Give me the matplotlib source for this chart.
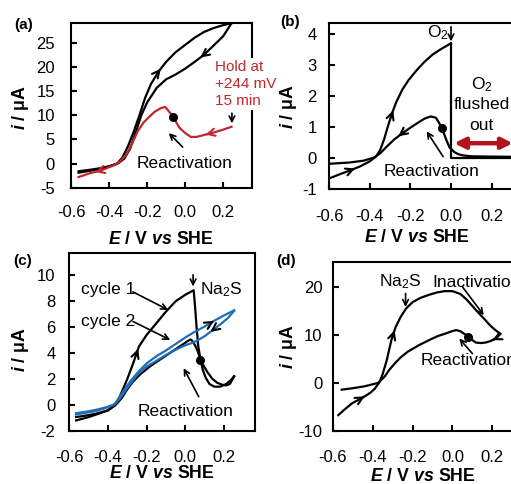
import numpy as np
import matplotlib
matplotlib.use('Agg')
import matplotlib.pyplot as plt

plt.rcParams['font.family'] = ['Liberation Sans', 'DejaVu Sans']
plt.rcParams['mathtext.fontset'] = 'custom'
plt.rcParams['mathtext.rm'] = 'Liberation Sans'
plt.rcParams['mathtext.it'] = 'Liberation Sans:italic:bold'
plt.rcParams['mathtext.bf'] = 'Liberation Sans:bold'
plt.rcParams['axes.unicode_minus'] = False

RED = '#c1272d'
DARKRED = '#b3141c'
BLUE = '#1e6eb8'

E_TICKS = [-0.6, -0.4, -0.2, 0.0, 0.2]
E_TICKLABELS = ['-0.6', '-0.4', '-0.2', '0.0', '0.2']

### (a) CV with hold at +244 mV
a_fwd_E = [-0.56, -0.50, -0.44, -0.40, -0.36, -0.33, -0.30, -0.27, -0.24, -0.21, -0.18,
           -0.14, -0.10, -0.05, 0.00, 0.05, 0.10, 0.15, 0.20, 0.244]
a_fwd_i = [-1.9, -1.5, -1.0, -0.6, -0.1, 1.2, 3.6, 6.6, 10.0, 13.6, 16.4,
           19.0, 21.0, 23.0, 24.5, 26.0, 27.2, 28.0, 28.6, 29.0]
a_rev_E = [0.244, 0.20, 0.15, 0.10, 0.05, 0.00, -0.05, -0.10, -0.15, -0.20, -0.23,
           -0.26, -0.29, -0.32, -0.35, -0.40, -0.45, -0.50, -0.56]
a_rev_i = [29.0, 26.3, 24.4, 22.5, 21.0, 19.6, 18.4, 17.4, 15.6, 12.6, 10.0,
           6.4, 3.0, 1.0, 0.1, -0.6, -1.0, -1.3, -1.6]
a_hold_E = [0.244, 0.20, 0.15, 0.10, 0.06, 0.03, 0.00, -0.03, -0.064, -0.09, -0.105, -0.13,
            -0.16, -0.19, -0.22, -0.25, -0.28, -0.31, -0.34, -0.37, -0.44, -0.50, -0.56]
a_hold_i = [7.6, 7.0, 6.4, 5.9, 5.5, 5.5, 6.3, 7.4, 9.7, 11.0, 11.7, 11.4,
            10.7, 9.6, 8.4, 6.6, 4.0, 1.8, 0.5, -0.3, -1.4, -2.0, -2.8]

### (b) O2 added then flushed out
b_fwd_E = [-0.60, -0.55, -0.50, -0.45, -0.40, -0.37, -0.35, -0.33, -0.31, -0.29, -0.27,
           -0.24, -0.21, -0.17, -0.13, -0.09, -0.05, 0.0]
b_fwd_i = [-0.65, -0.52, -0.40, -0.27, -0.10, 0.05, 0.25, 0.6, 1.05, 1.45, 1.8,
           2.2, 2.5, 2.82, 3.1, 3.33, 3.5, 3.69]
b_step_E = [0.0, 0.0, 0.35]
b_step_i = [3.69, 0.02, 0.02]
b_rev_E = [0.35, 0.20, 0.10, 0.057, 0.035, 0.016, -0.008, -0.025, -0.044, -0.06, -0.075,
           -0.10, -0.13, -0.16, -0.20, -0.24, -0.28, -0.32, -0.35, -0.38, -0.43, -0.50, -0.60]
b_rev_i = [0.04, 0.05, 0.06, 0.09, 0.13, 0.2, 0.35, 0.62, 0.95, 1.15, 1.3,
           1.34, 1.27, 1.15, 0.98, 0.8, 0.6, 0.35, 0.15, 0.02, -0.08, -0.14, -0.18]

### (c) Na2S added, cycle 1 (black) and cycle 2 (blue)
c1_fwd_E = [-0.565, -0.50, -0.45, -0.40, -0.365, -0.34, -0.32, -0.30, -0.27, -0.24, -0.20,
            -0.15, -0.10, -0.05, 0.00, 0.043, 0.05, 0.058, 0.066, 0.078, 0.09, 0.105,
            0.125, 0.15, 0.18, 0.21, 0.235, 0.252]
c1_fwd_i = [-1.21, -0.95, -0.7, -0.4, -0.05, 0.6, 1.3, 2.0, 3.2, 4.5, 5.4,
            6.3, 7.2, 8.0, 8.5, 8.85, 7.6, 6.0, 4.6, 3.5, 2.7, 2.1,
            1.6, 1.4, 1.4, 1.6, 1.9, 2.2]
c1_rev_E = [0.252, 0.23, 0.21, 0.19, 0.165, 0.14, 0.115, 0.095, 0.078, 0.065, 0.05, 0.035,
            0.026, 0.01, -0.03, -0.08, -0.13, -0.18, -0.23, -0.27, -0.30, -0.33, -0.36,
            -0.40, -0.45, -0.50, -0.565]
c1_rev_i = [2.2, 1.6, 1.5, 1.55, 1.7, 2.0, 2.5, 3.0, 3.5, 4.1, 4.6, 4.95,
            5.05, 4.9, 4.5, 4.0, 3.5, 3.0, 2.4, 1.8, 1.2, 0.5, 0.0,
            -0.45, -0.65, -0.8, -0.95]
c2_fwd_E = [-0.565, -0.50, -0.45, -0.40, -0.365, -0.34, -0.31, -0.28, -0.24, -0.20, -0.15,
            -0.10, -0.05, 0.0, 0.05, 0.10, 0.15, 0.20, 0.252]
c2_fwd_i = [-0.65, -0.5, -0.35, -0.15, 0.05, 0.6, 1.3, 1.9, 2.6, 3.2, 3.75,
            4.2, 4.7, 5.2, 5.65, 6.05, 6.5, 6.9, 7.3]
c2_rev_E = [0.252, 0.22, 0.18, 0.14, 0.10, 0.06, 0.03, 0.0, -0.05, -0.10, -0.15, -0.20,
            -0.25, -0.30, -0.34, -0.37, -0.45, -0.565]
c2_rev_i = [7.25, 6.7, 6.2, 5.75, 5.3, 4.95, 4.75, 4.6, 4.25, 3.85, 3.4, 2.95,
            2.3, 1.3, 0.45, 0.0, -0.45, -0.75]

### (d) Na2S added during scan
d_fwd_E = [-0.572, -0.54, -0.505, -0.47, -0.44, -0.41, -0.389, -0.365, -0.35, -0.33, -0.306,
           -0.285, -0.26, -0.232, -0.20, -0.16, -0.12, -0.08, -0.04, 0.0, 0.04, 0.07,
           0.10, 0.13, 0.16, 0.19, 0.215, 0.24]
d_fwd_i = [-6.7, -5.5, -4.3, -3.5, -2.8, -2.0, -1.2, 0.2, 1.8, 4.6, 8.9,
           11.6, 13.7, 15.5, 16.8, 17.7, 18.3, 18.8, 19.1, 19.1, 18.5, 17.4,
           16.0, 14.6, 13.3, 11.9, 11.0, 10.2]
d_rev_E = [0.24, 0.22, 0.19, 0.166, 0.14, 0.117, 0.10, 0.083, 0.06, 0.042, 0.02, 0.0,
           -0.033, -0.07, -0.10, -0.166, -0.224, -0.26, -0.29, -0.315, -0.34, -0.373,
           -0.44, -0.50, -0.555]
d_rev_i = [10.2, 9.3, 8.7, 8.4, 8.3, 8.4, 8.9, 9.6, 10.2, 10.7, 11.0, 10.8,
           10.3, 9.8, 9.25, 7.9, 6.5, 5.3, 4.0, 2.8, 1.3, 0.0,
           -0.7, -1.1, -1.4]

W, H = 511, 484
TXT = 12.5


def rect(left, top, right, bottom):
    # pixel box (from top-left) -> figure fraction
    return [left / W, 1 - bottom / H, (right - left) / W, (bottom - top) / H]


def setup(ax, xlim, ylim, yticks, xpad, ypad, xlab, ylab):
    ax.set_xlim(xlim)
    ax.set_ylim(ylim)
    ax.set_xticks(E_TICKS)
    ax.set_xticklabels(E_TICKLABELS)
    ax.set_yticks(yticks)
    ax.tick_params(direction='in', length=4.5, width=1.5, labelsize=12)
    ax.tick_params(axis='x', pad=xpad)
    ax.tick_params(axis='y', pad=ypad)
    for s in ax.spines.values():
        s.set_linewidth(1.5)
    ax.set_xlabel(r'$E$ / V $vs$ SHE', fontsize=12.8, fontweight='bold')
    ax.set_ylabel(r'$i$ / μA', fontsize=12.8, fontweight='bold')
    ax.xaxis.label.set_va('center')
    ax.xaxis.set_label_coords(*xlab)
    ax.yaxis.label.set_va('center')
    ax.yaxis.set_label_coords(*ylab)


def chevron(ax, E, I, e0, color='k'):
    # small arrowhead on the curve, pointing along the scan direction
    E = np.asarray(E)
    I = np.asarray(I)
    order = np.argsort(E)
    step = 0.012 if E[-1] > E[0] else -0.012
    y0 = np.interp(e0, E[order], I[order])
    y1 = np.interp(e0 - step, E[order], I[order])
    ax.annotate('', xy=(e0, y0), xytext=(e0 - step, y1),
                arrowprops=dict(arrowstyle='->', color=color, lw=1.5,
                                mutation_scale=13, shrinkA=0, shrinkB=0))


def pointer(ax, start, end, color='k'):
    ax.annotate('', xy=end, xytext=start,
                arrowprops=dict(arrowstyle='->', color=color, lw=1.2,
                                mutation_scale=10, shrinkA=0, shrinkB=0))


fig = plt.figure(figsize=(W / 100, H / 100), dpi=100)
lw = 1.6

## (a)
ax = fig.add_axes(rect(71, 22.7, 251.7, 187.7))
ax.plot(a_fwd_E, a_fwd_i, color='k', lw=lw)
ax.plot(a_rev_E, a_rev_i, color='k', lw=lw)
ax.plot(a_hold_E, a_hold_i, color=RED, lw=lw)
ax.plot([-0.064], [9.7], 'o', color='k', ms=5.5)
chevron(ax, a_fwd_E, a_fwd_i, -0.128)
chevron(ax, a_rev_E, a_rev_i, 0.08)
for e0 in [0.107, -0.473]:
    chevron(ax, a_hold_E, a_hold_i, e0, RED)
setup(ax, (-0.6, 0.35), (-5, 29.1), [-5, 0, 5, 10, 15, 20, 25], 12.5, 11.5,
      (0.498, -0.313), (-0.282, 0.483))
ax.text(0.159, 16.4, 'Hold at\n+244 mV\n15 min', color=RED, fontsize=11,
        ha='left', va='center', linespacing=1.25, zorder=5,
        bbox=dict(facecolor='white', edgecolor='none', pad=1.5))
pointer(ax, (0.246, 10.4), (0.246, 8.3))
ax.text(-0.003, 0.1, 'Reactivation', fontsize=TXT, ha='center', va='center')
pointer(ax, (-0.013, 3.4), (-0.086, 6.3))

## (b)
ax = fig.add_axes(rect(329.3, 22.7, 522, 189.3))
ax.plot(b_fwd_E, b_fwd_i, color='k', lw=lw)
ax.plot(b_step_E, b_step_i, color='k', lw=lw)
ax.plot(b_rev_E, b_rev_i, color='k', lw=lw)
ax.plot([-0.046], [0.97], 'o', color='k', ms=5.5)
for e0 in [-0.473, -0.285]:
    chevron(ax, b_fwd_E, b_fwd_i, e0)
chevron(ax, b_rev_E, b_rev_i, -0.26)
setup(ax, (-0.6, 0.35), (-1, 4.35), [-1, 0, 1, 2, 3, 4], 14.5, 9,
      (0.455, -0.292), (-0.214, 0.496))
ax.text(-0.067, 4.03, 'O$_2$', fontsize=TXT, ha='center', va='center')
pointer(ax, (0.0, 4.22), (0.0, 3.75))
for yy, line in zip([2.37, 1.72, 1.04], ['O$_2$', 'flushed', 'out']):
    ax.text(0.151, yy, line, fontsize=TXT, ha='center', va='center')
ax.annotate('', xy=(0.305, 0.48), xytext=(0.015, 0.48), annotation_clip=False,
            arrowprops=dict(arrowstyle='<|-|>', color=DARKRED, lw=3.2,
                            mutation_scale=16, shrinkA=0, shrinkB=0))
ax.text(-0.094, -0.44, 'Reactivation', fontsize=TXT, ha='center', va='center')
pointer(ax, (-0.039, 0.05), (-0.12, 0.86))

## (c)
ax = fig.add_axes(rect(69.3, 253.3, 255, 430.7))
ax.plot(c1_fwd_E, c1_fwd_i, color='k', lw=lw)
ax.plot(c1_rev_E, c1_rev_i, color='k', lw=lw)
ax.plot(c2_fwd_E, c2_fwd_i, color=BLUE, lw=lw)
ax.plot(c2_rev_E, c2_rev_i, color=BLUE, lw=lw)
ax.plot([0.078], [3.47], 'o', color='k', ms=5.5)
chevron(ax, c1_fwd_E, c1_fwd_i, -0.244)
chevron(ax, c2_fwd_E, c2_fwd_i, 0.148)
chevron(ax, c2_rev_E, c2_rev_i, 0.13)
setup(ax, (-0.6, 0.36), (-2, 11.7), [-2, 0, 2, 4, 6, 8, 10], 13.7, 10,
      (0.497, -0.240), (-0.265, 0.455))
ax.text(-0.537, 8.88, 'cycle 1', fontsize=TXT, ha='left', va='center')
pointer(ax, (-0.271, 8.72), (-0.089, 7.33))
ax.text(-0.537, 6.43, 'cycle 2', fontsize=TXT, ha='left', va='center')
pointer(ax, (-0.27, 6.43), (-0.078, 5.01))
ax.text(0.078, 8.88, 'Na$_2$S', fontsize=TXT, ha='left', va='center')
pointer(ax, (0.04, 10.04), (0.04, 9.14))
ax.text(0.0, -0.53, 'Reactivation', fontsize=TXT, ha='center', va='center')
pointer(ax, (0.069, 0.63), (-0.009, 2.83))

## (d)
ax = fig.add_axes(rect(332.7, 262.3, 522.3, 431))
ax.plot(d_fwd_E, d_fwd_i, color='k', lw=lw)
ax.plot(d_rev_E, d_rev_i, color='k', lw=lw)
ax.plot([0.08], [9.6], 'o', color='k', ms=5.5)
for e0 in [-0.44, -0.29]:
    chevron(ax, d_fwd_E, d_fwd_i, e0)
chevron(ax, d_rev_E, d_rev_i, 0.2)
setup(ax, (-0.6, 0.35), (-10, 25.1), [-10, 0, 10, 20], 13.7, 7.5,
      (0.476, -0.271), (-0.234, 0.498))
ax.text(-0.261, 21.0, 'Na$_2$S', fontsize=TXT, ha='center', va='center')
pointer(ax, (-0.235, 18.6), (-0.235, 15.8))
ax.text(-0.1, 21.0, 'Inactivation', fontsize=TXT, ha='left', va='center')
pointer(ax, (0.05, 20.0), (0.157, 14.1))
ax.text(-0.157, 4.58, 'Reactivation', fontsize=TXT, ha='left', va='center')
pointer(ax, (0.1, 6.1), (0.034, 9.25))

# panel letters
for (px, py), lab in zip([(24, 25), (290, 21.7), (22.5, 261), (286, 261.5)],
                         ['(a)', '(b)', '(c)', '(d)']):
    fig.text(px / W, 1 - py / H, lab, fontsize=11, fontweight='bold',
             ha='center', va='center')

fig.savefig('out.png', dpi=100)
